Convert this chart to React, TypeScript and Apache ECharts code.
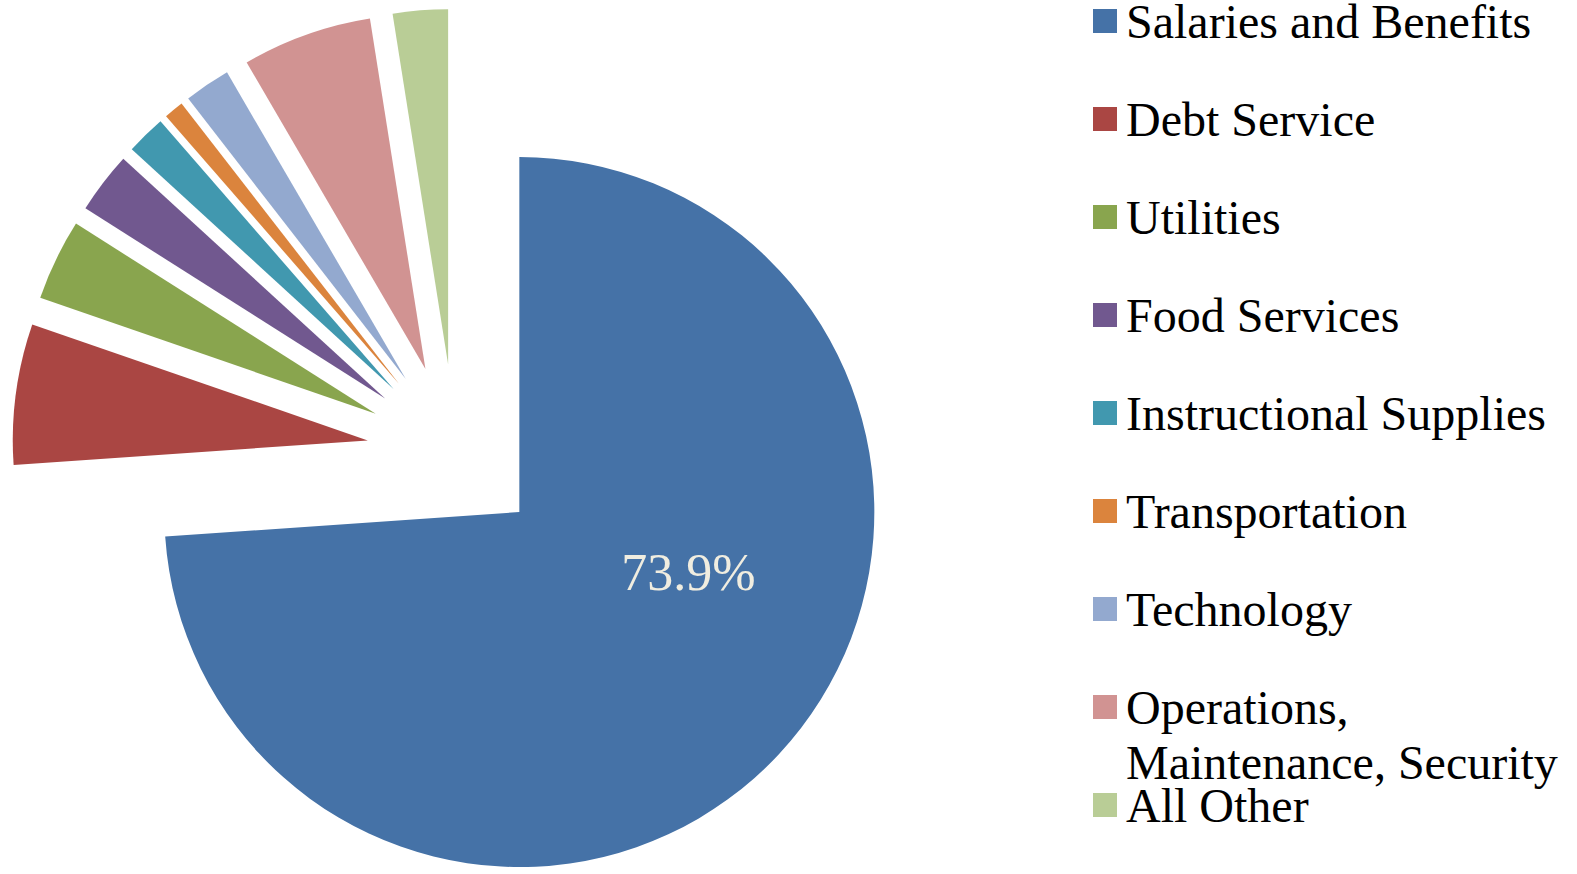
import React, { useEffect, useRef } from 'react';
import * as echarts from 'echarts';

const categories = [
  'Salaries and Benefits',
  'Debt Service',
  'Utilities',
  'Food Services',
  'Instructional Supplies',
  'Transportation',
  'Technology',
  'Operations, Maintenance, Security',
  'All Other',
];
const shares = [73.9, 6.4, 3.7, 2.8, 1.8, 0.9, 2.1, 5.9, 2.5];
const colors = ['#4572A7', '#AA4643', '#89A54E', '#71588F', '#4198AF', '#DB843D', '#93A9CF', '#D19392', '#B9CD96'];

const FONT = '"Liberation Serif", "Times New Roman", Times, serif';

export default function App() {
  const ref = useRef<HTMLDivElement>(null);
  useEffect(() => {
    if (!ref.current) return;
    const chart = echarts.init(ref.current, null, { renderer: 'svg' });
    const wrapName = (name: string) => {
      const idx = name.indexOf(', ');
      if (name === categories[7] && idx > 0) {
        return '{e| }\n{a|' + name.slice(0, idx + 1) + '}\n{a|' + name.slice(idx + 2) + '}';
      }
      return name;
    };
    chart.setOption({
      animation: false,
      color: colors,
      legend: {
        orient: 'vertical',
        left: 1093,
        top: -61.5,
        height: 1300,
        padding: 0,
        itemWidth: 24,
        itemHeight: 24,
        itemGap: -67,
        icon: 'rect',
        selectedMode: false,
        data: categories,
        formatter: wrapName,
        textStyle: {
          fontFamily: FONT,
          fontSize: 48,
          color: '#000',
          lineHeight: 165,
          padding: [0, 0, 0, 4],
          rich: {
            e: { fontFamily: FONT, fontSize: 48, color: '#000', lineHeight: 55 },
            a: { fontFamily: FONT, fontSize: 48, color: '#000', lineHeight: 55 },
          },
        },
      },
      series: [
        {
          type: 'pie',
          center: [455, 452],
          radius: 355,
          startAngle: 90,
          clockwise: true,
          selectedMode: 'multiple',
          selectedOffset: 88,
          percentPrecision: 1,
          avoidLabelOverlap: false,
          label: { show: false },
          labelLine: { show: false },
          emphasis: { disabled: true, scale: false },
          itemStyle: { borderWidth: 0 },
          data: categories.map((name, i) => ({
            name,
            value: shares[i],
            selected: true,
            label:
              i === 0
                ? {
                    show: true,
                    position: 'inside',
                    formatter: '{d}%',
                    color: '#F0EDE0',
                    fontSize: 52,
                    fontFamily: FONT,
                  }
                : { show: false },
          })),
          labelLayout: (p: any) => (p.dataIndex === 0 ? { dx: 37, dy: -63 } : {}),
        },
      ],
    });
    return () => chart.dispose();
  }, []);
  return (
    <div
      ref={ref}
      style={{ position: 'fixed', left: 0, top: 0, width: 1577, height: 874, background: '#fff' }}
    />
  );
}
